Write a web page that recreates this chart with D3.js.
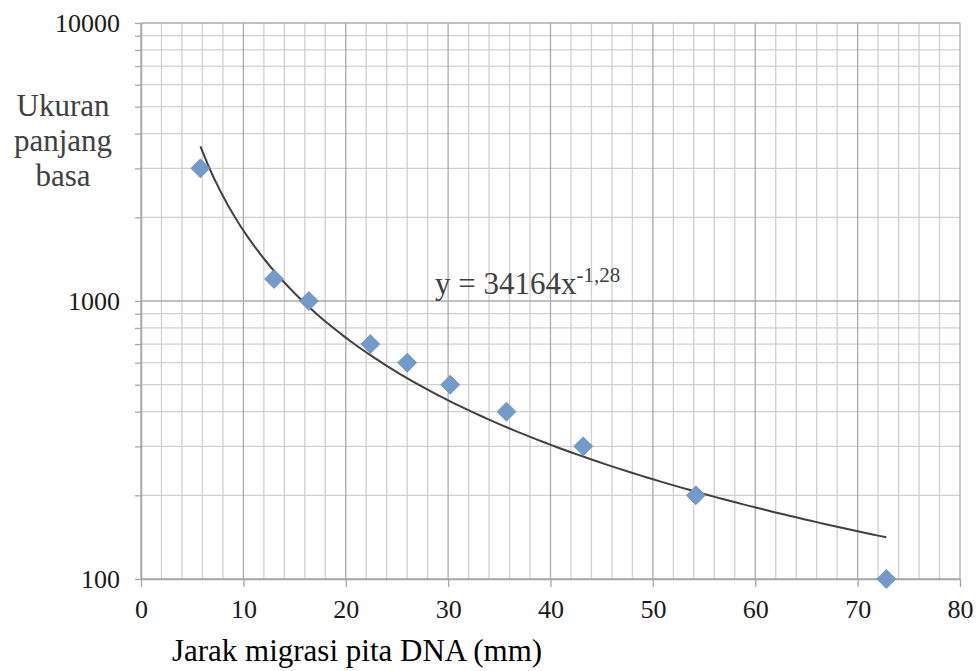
<!DOCTYPE html>
<html>
<head>
<meta charset="utf-8">
<script src="https://cdn.jsdelivr.net/npm/d3@7"></script>
<style>
  body { margin: 0; background: #fff; }
  svg { display: block; font-family: "Liberation Serif", "Times New Roman", serif; }
</style>
</head>
<body>
<svg id="chart" width="980" height="671"></svg>
<script>
// migration distance (mm) and band size (bp)
var distances = [5.8, 13, 16.4, 22.4, 26, 30.2, 35.7, 43.2, 54.2, 72.8];
var sizes = [3000, 1200, 1000, 700, 600, 500, 400, 300, 200, 100];
var xTicks = [0, 10, 20, 30, 40, 50, 60, 70, 80];
var yTicks = [100, 1000, 10000];
// power trendline as printed on the chart
var trendA = 34164;
var trendB = -1.28;

var svg = d3.select("#chart");
var margin = {left: 141, right: 20, top: 23, bottom: 92};
var width = 980 - margin.left - margin.right,
    height = 671 - margin.top - margin.bottom;

var x = d3.scaleLinear().domain([0, 80]).range([0, width]);
var y = d3.scaleLog().domain([100, 10000]).range([height, 0]);

var g = svg.append("g").attr("transform", "translate(" + margin.left + "," + margin.top + ")");

// minor gridlines
var xMinor = d3.range(0, 81, 2).filter(d => d % 10 !== 0);
var yMinor = [];
[100, 1000].forEach(function(dec) {
    for (var k = 2; k <= 9; k++) yMinor.push(dec * k);
});

g.append("g").selectAll("line").data(xMinor).enter().append("line")
    .attr("x1", d => x(d)).attr("x2", d => x(d))
    .attr("y1", 0).attr("y2", height)
    .attr("stroke", "#d0d0d0").attr("stroke-width", 1.3);
g.append("g").selectAll("line").data(yMinor).enter().append("line")
    .attr("x1", 0).attr("x2", width)
    .attr("y1", d => y(d)).attr("y2", d => y(d))
    .attr("stroke", "#d0d0d0").attr("stroke-width", 1.3);

// major gridlines
g.append("g").selectAll("line").data(xTicks).enter().append("line")
    .attr("x1", d => x(d)).attr("x2", d => x(d))
    .attr("y1", 0).attr("y2", height)
    .attr("stroke", "#ababab").attr("stroke-width", 1.3);
g.append("g").selectAll("line").data(yTicks).enter().append("line")
    .attr("x1", 0).attr("x2", width)
    .attr("y1", d => y(d)).attr("y2", d => y(d))
    .attr("stroke", "#ababab").attr("stroke-width", 1.3);

// axes
var xAxis = g.append("g")
    .attr("transform", "translate(0," + height + ")")
    .call(d3.axisBottom(x).tickValues(xTicks).tickSize(8).tickPadding(13).tickSizeOuter(0));
var yAxis = g.append("g")
    .call(d3.axisLeft(y).tickValues(yTicks.concat(yMinor)).tickSize(6).tickPadding(15).tickSizeOuter(0)
        .tickFormat(d => yTicks.indexOf(d) >= 0 ? d : ""));
[xAxis, yAxis].forEach(function(a) {
    a.select(".domain").attr("stroke", "#a6a6a6").attr("stroke-width", 1.5);
    a.selectAll(".tick line").attr("stroke", "#a6a6a6").attr("stroke-width", 1.3);
    a.selectAll(".tick text")
        .attr("font-family", "Liberation Serif, serif")
        .attr("font-size", 26).attr("fill", "#1a1a1a");
});

// trendline
var trendData = d3.range(0, 101).map(function(i) {
    var xv = distances[0] + (distances[distances.length - 1] - distances[0]) * i / 100;
    return [xv, trendA * Math.pow(xv, trendB)];
});
g.append("path")
    .datum(trendData)
    .attr("fill", "none")
    .attr("stroke", "#404040")
    .attr("stroke-width", 2)
    .attr("d", d3.line().x(d => x(d[0])).y(d => y(d[1])));

// points
g.append("g").selectAll("path").data(distances).enter().append("path")
    .attr("transform", (d, i) => "translate(" + x(d) + "," + y(sizes[i]) + ")")
    .attr("d", d3.symbol().type(d3.symbolDiamond2).size(230))
    .attr("fill", "#739ac8")
    .attr("stroke", "#6a90bf")
    .attr("stroke-width", 0.8);

// equation
var eq = svg.append("text")
    .attr("x", 435).attr("y", 294)
    .attr("font-size", 31).attr("fill", "#404040");
eq.append("tspan").text("y = 34164x");
eq.append("tspan").attr("dy", -12).attr("font-size", 21).text("-1,28");

// y axis title
svg.append("text")
    .attr("text-anchor", "middle")
    .attr("font-size", 31).attr("fill", "#404040")
    .selectAll("tspan")
    .data(["Ukuran", "panjang", "basa"])
    .enter().append("tspan")
    .attr("x", 63)
    .attr("y", (d, i) => 116 + i * 35)
    .text(d => d);

// x axis title
svg.append("text")
    .attr("x", 357).attr("y", 661)
    .attr("text-anchor", "middle")
    .attr("font-size", 31).attr("fill", "#000")
    .text("Jarak migrasi pita DNA (mm)");
</script>
</body>
</html>
